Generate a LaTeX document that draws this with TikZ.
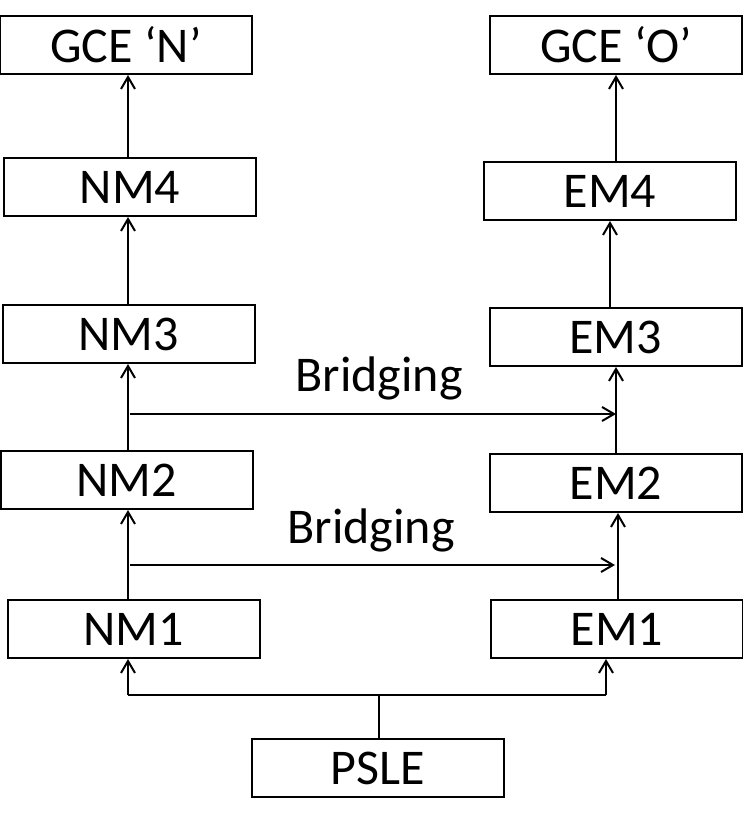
\documentclass[tikz,border=0pt]{standalone}
\usepackage{fontspec}
\setmainfont{Carlito}
\usetikzlibrary{arrows.meta,positioning}

\begin{document}
\begin{tikzpicture}[x=0.5pt,y=-0.5pt,line width=1pt,
    level/.style={draw,minimum width=126pt,minimum height=29pt,inner sep=0pt,font=\fontsize{25}{29}\selectfont},
    up/.style={-{Straight Barb[length=6pt,width=7pt]}}]
        \useasboundingbox (0,0) rectangle (743,829);

        % normal stream
        \node[level] (GCEN) at (126,45) {GCE ‘N’};
        \node[level] (NM4) at (130,187) {NM4};
        \node[level] (NM3) at (128.5,334) {NM3};
        \node[level] (NM2) at (126.5,480) {NM2};
        \node[level] (NM1) at (133.5,629) {NM1};

        % express stream
        \node[level] (GCEO) at (616,45) {GCE ‘O’};
        \node[level] (EM4) at (610,191) {EM4};
        \node[level] (EM3) at (615.5,337) {EM3};
        \node[level] (EM2) at (616,483) {EM2};
        \node[level] (EM1) at (617,629) {EM1};

        \node[level] (PSLE) at (378,768) {PSLE};

        \draw[up] (NM4.north -| 128,0) -- (GCEN.south -| 128,0);
        \draw[up] (NM3.north -| 128,0) -- (NM4.south -| 128,0);
        \draw[up] (NM2.north -| 128,0) -- (NM3.south -| 128,0);
        \draw[up] (NM1.north -| 128,0) -- (NM2.south -| 128,0);

        \draw[up] (EM4.north -| 616,0) -- (GCEO.south -| 616,0);
        \draw[up] (EM3.north -| 610,0) -- (EM4.south -| 610,0);
        \draw[up] (EM2.north -| 616,0) -- (EM3.south -| 616,0);
        \draw[up] (EM1.north -| 618,0) -- (EM2.south -| 618,0);

        % bridging
        \coordinate (brA) at (130,414);
        \coordinate (brB) at (130,565);
        \draw[up] (brA) -- (brA -| 616,0);
        \draw[up] (brB) -- (brB -| 615,0);
        \node[font=\fontsize{25}{29}\selectfont] (bridgeA) at (379,378) {Bridging};
        \node[font=\fontsize{25}{29}\selectfont] (bridgeB) at (371,530) {Bridging};

        % PSLE fork
        \coordinate (forkL) at (128,695);
        \coordinate (forkR) at (606,695);
        \draw (PSLE.north -| 379,0) -- (379,695);
        \draw (forkL) -- (forkR);
        \draw[up] (forkL) -- (forkL |- NM1.south);
        \draw[up] (forkR) -- (forkR |- EM1.south);
    \end{tikzpicture}
\end{document}
